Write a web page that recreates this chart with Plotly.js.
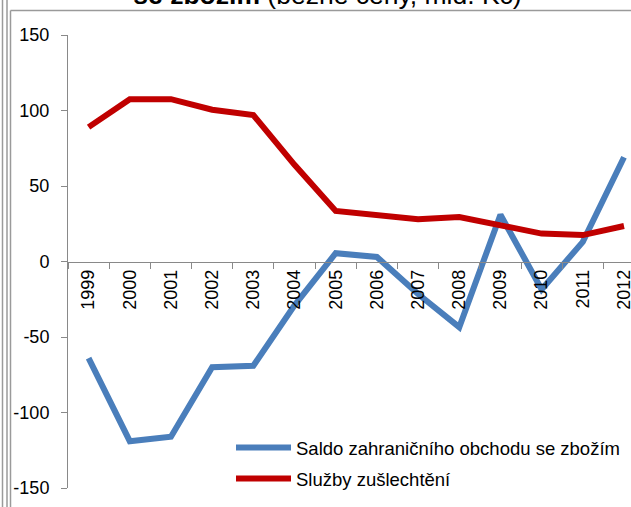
<!DOCTYPE html>
<html>
<head>
<meta charset="utf-8">
<script src="https://cdn.plot.ly/plotly-3.0.1.min.js"></script>
<style>
html,body{margin:0;padding:0;background:#fff;overflow:hidden;}
#chart{width:631px;height:507px;}
</style>
</head>
<body>
<div id="chart"></div>
<script>
var years = ['1999','2000','2001','2002','2003','2004','2005','2006','2007','2008','2009','2010','2011','2012'];
var saldo = [-64, -119, -116, -70, -69, -29, 5.5, 3, -21.5, -43.5, 31, -18.5, 13, 69];
var sluzby = [89, 107.5, 107.5, 100.5, 97, 64, 33.5, 30.5, 28, 29.5, 24.5, 18.5, 17.5, 23.5];
var seriesNames = ['Saldo zahraničního obchodu se zbožím', 'Služby zušlechtění'];
var yTicks = [-150, -100, -50, 0, 50, 100, 150];

var W = 631, H = 507, L = 68, R = 0, T = 35, B = 19;
function px(x){ return (x - L) / (W - L - R); }
function py(y){ return (H - B - y) / (H - T - B); }

var traces = [
  {x: years, y: saldo, name: seriesNames[0], type: 'scatter', mode: 'lines',
   line: {color: '#4A7EBB', width: 6}, legendgroup: 'a'},
  {x: years, y: sluzby, name: seriesNames[1], type: 'scatter', mode: 'lines',
   line: {color: '#C00000', width: 6}, legendgroup: 'b'}
];

var frame = '#9a9a9a';
var layout = {
  width: W, height: H,
  margin: {l: L, r: R, t: T, b: B, pad: 0},
  paper_bgcolor: '#ffffff', plot_bgcolor: '#ffffff',
  font: {family: 'Liberation Sans, Arial, sans-serif', size: 18, color: '#000'},
  showlegend: true,
  title: {
    text: '<b>se zbožím</b> (běžné ceny, mld. Kč)',
    font: {family: 'Liberation Sans, Arial, sans-serif', size: 26.5, color: '#000'},
    xref: 'container', yref: 'container', x: 327.5 / W, xanchor: 'center',
    y: (H - 4) / H, yanchor: 'bottom'
  },
  xaxis: {
    type: 'category', range: [-0.5, 13.17], anchor: 'free', position: 0.5,
    showline: true, linecolor: '#898989', linewidth: 1,
    ticks: 'outside', ticklen: 6, tickcolor: '#898989', tickson: 'boundaries',
    tickangle: -90, showgrid: false, zeroline: false, fixedrange: true,
    tickfont: {size: 18, color: '#000'}
  },
  yaxis: {
    range: [-150, 150], tickvals: yTicks, ticktext: yTicks.map(String),
    showline: true, linecolor: '#898989', linewidth: 1,
    ticks: 'outside', ticklen: 6, tickcolor: '#898989', ticklabelstandoff: 8,
    showgrid: false, zeroline: false, fixedrange: true,
    tickfont: {size: 18, color: '#000'}
  },
  legend: {
    x: px(231), y: py(429), xanchor: 'left', yanchor: 'top',
    bgcolor: 'rgba(0,0,0,0)', borderwidth: 0,
    font: {size: 18.5, color: '#000'}, traceorder: 'grouped', tracegroupgap: 4,
    itemwidth: 55
  },
  shapes: [
    {type: 'line', xref: 'paper', yref: 'paper', x0: px(2.5), x1: px(2.5), y0: py(0), y1: py(507), line: {color: frame, width: 1.5}},
    {type: 'line', xref: 'paper', yref: 'paper', x0: px(7), x1: px(7), y0: py(0), y1: py(507), line: {color: frame, width: 1.5}},
    {type: 'line', xref: 'paper', yref: 'paper', x0: px(10.5), x1: px(10.5), y0: py(10.5), y1: py(507), line: {color: frame, width: 1.5}},
    {type: 'line', xref: 'paper', yref: 'paper', x0: px(10.5), x1: px(631), y0: py(10.5), y1: py(10.5), line: {color: frame, width: 1.5}}
  ]
};

Plotly.newPlot('chart', traces, layout, {staticPlot: true, displayModeBar: false});
</script>
</body>
</html>
